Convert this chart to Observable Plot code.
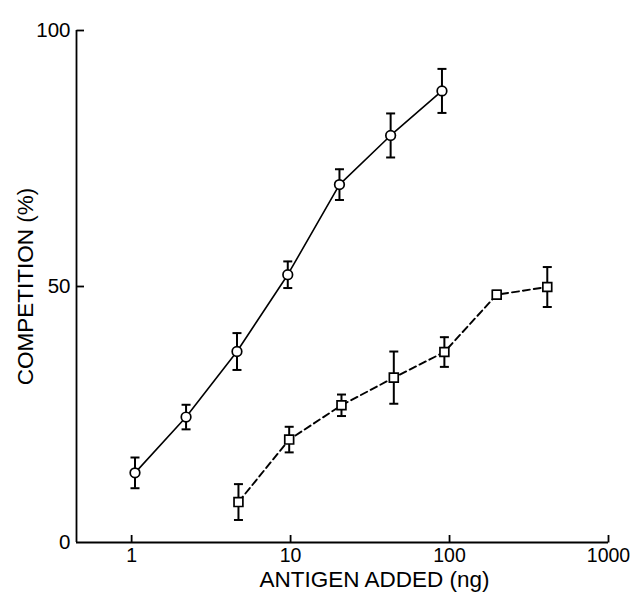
<!DOCTYPE html>
<html>
<head>
<meta charset="utf-8">
<script src="https://cdn.jsdelivr.net/npm/d3@7"></script>
<script src="https://cdn.jsdelivr.net/npm/@observablehq/plot@0.6"></script>
<style>
  html, body { margin: 0; padding: 0; background: #fff; }
</style>
</head>
<body>
<div id="chart"></div>
<script>
// ---- data ----
const circleX   = [1.05, 2.2, 4.6, 9.6, 20.3, 42.6, 89.6];
const circleY   = [13.6, 24.5, 37.3, 52.3, 69.9, 79.5, 88.2];
const circleErr = [3.0, 2.4, 3.6, 2.6, 3.0, 4.3, 4.3];

const squareX   = [4.7, 9.8, 20.9, 44.6, 92.8, 198, 412];
const squareY   = [7.9, 20.1, 26.8, 32.2, 37.2, 48.4, 49.9];
const squareErr = [3.5, 2.5, 2.1, 5.1, 2.9, 0.8, 3.9];

const xTicks = [1, 10, 100, 1000];
const yTicks = [0, 50, 100];
const xTitle = "ANTIGEN ADDED (ng)";
const yTitle = "COMPETITION (%)";

const xMin = 0.45, xMax = 1000;

const circles = circleX.map((x, i) => ({x, y: circleY[i], lo: circleY[i] - circleErr[i], hi: circleY[i] + circleErr[i]}));
const squares = squareX.map((x, i) => ({x, y: squareY[i], lo: squareY[i] - squareErr[i], hi: squareY[i] + squareErr[i]}));

// custom symbols
const capSymbol = {draw(ctx) { ctx.moveTo(-4.5, 0); ctx.lineTo(4.5, 0); }};
const tickUp = {draw(ctx) { ctx.moveTo(0, 0); ctx.lineTo(0, -7.5); }};
const tickRight = {draw(ctx) { ctx.moveTo(0, 0); ctx.lineTo(7.5, 0); }};

function errorMarks(data) {
  return [
    Plot.ruleX(data, {x: "x", y1: "lo", y2: "hi", stroke: "black", strokeWidth: 2}),
    Plot.dot(data, {x: "x", y: "lo", symbol: capSymbol, stroke: "black", strokeWidth: 2, fill: "none"}),
    Plot.dot(data, {x: "x", y: "hi", symbol: capSymbol, stroke: "black", strokeWidth: 2, fill: "none"})
  ];
}

const chart = Plot.plot({
  width: 632,
  height: 598,
  marginLeft: 76,
  marginRight: 24,
  marginTop: 30,
  marginBottom: 56,
  style: {fontFamily: "'Liberation Sans', Arial, Helvetica, sans-serif", background: "#fff", color: "black"},
  x: {type: "log", domain: [xMin, xMax]},
  y: {domain: [0, 100]},
  marks: [
    // axes lines
    Plot.ruleY([0], {stroke: "black", strokeWidth: 1.8}),
    Plot.ruleX([xMin], {stroke: "black", strokeWidth: 1.8}),
    Plot.dot(xTicks, {x: d => d, y: 0, symbol: tickUp, stroke: "black", strokeWidth: 1.8, fill: "none"}),
    Plot.dot(yTicks.filter(d => d > 0), {x: xMin, y: d => d, symbol: tickRight, stroke: "black", strokeWidth: 1.8, fill: "none"}),
    Plot.axisX({ticks: xTicks, tickFormat: d => String(d), tickSize: 0, tickPadding: 6, fontSize: 19.5, label: null}),
    Plot.axisY({ticks: yTicks, tickFormat: d => String(d), tickSize: 0, tickPadding: 6, fontSize: 20.5, label: null}),
    Plot.text([xTitle], {text: d => d, frameAnchor: "bottom", dx: 32, dy: 44, fontSize: 22.5, fill: "black"}),
    Plot.text([yTitle], {text: d => d, frameAnchor: "left", textAnchor: "middle", dx: -51, rotate: -90, fontSize: 22.5, fill: "black"}),
    // series lines
    Plot.line(circles, {x: "x", y: "y", stroke: "black", strokeWidth: 1.6}),
    Plot.line(squares, {x: "x", y: "y", stroke: "black", strokeWidth: 1.9, strokeDasharray: "7,4"}),
    ...errorMarks(circles),
    ...errorMarks(squares),
    Plot.dot(circles, {x: "x", y: "y", r: 4.8, symbol: "circle", fill: "white", stroke: "black", strokeWidth: 1.7}),
    Plot.dot(squares, {x: "x", y: "y", r: 5.0, symbol: "square", fill: "white", stroke: "black", strokeWidth: 1.7})
  ]
});

document.getElementById("chart").appendChild(chart);
</script>
</body>
</html>
